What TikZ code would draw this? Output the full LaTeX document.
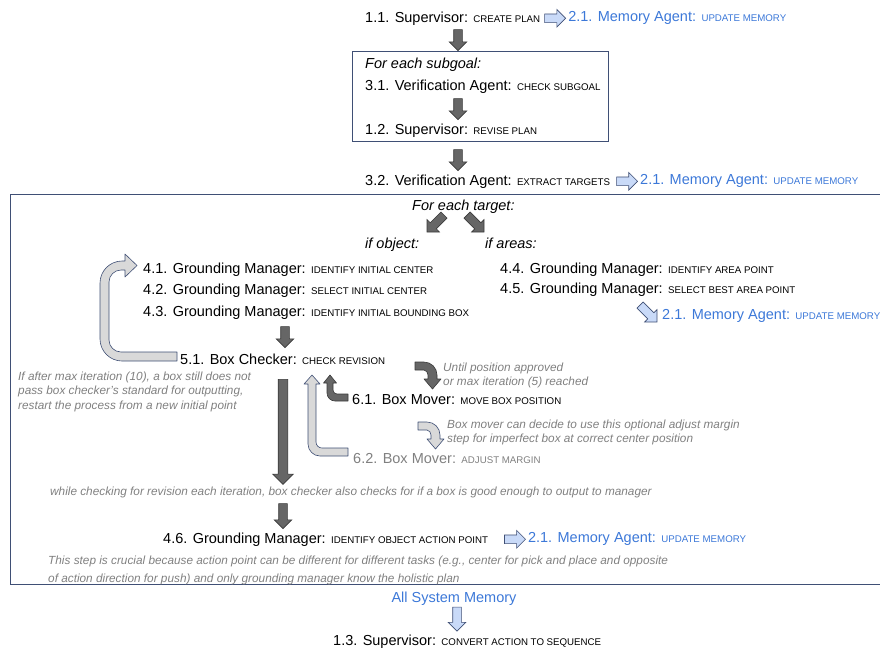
\documentclass[tikz,border=0pt]{standalone}
\usepackage{fontspec}
\setmainfont{Liberation Sans}
\usetikzlibrary{arrows.meta,calc,positioning,shapes.arrows}

\definecolor{memblue}{HTML}{3C78D8}
\definecolor{notegray}{HTML}{808080}
\definecolor{framec}{HTML}{3F4F75}
\definecolor{arrdark}{HTML}{666666}
\definecolor{arrdkline}{HTML}{3A3A3A}
\definecolor{arrblue}{HTML}{C9DAF8}
\definecolor{arrgray}{HTML}{D9D9D9}

\newcommand{\act}[1]{{\fontsize{9.7}{11}\selectfont #1}}

\tikzset{
  stp/.style={anchor=base west, inner sep=0pt, font=\fontsize{14.5}{17}\selectfont},
  stpit/.style={stp, font=\fontsize{14.5}{17}\selectfont\itshape},
  mem/.style={stp, text=memblue},
  note/.style={anchor=north west, inner sep=0pt, align=left, text=notegray, font=\fontsize{11.8}{14.5}\selectfont\itshape},
  blk/.style={single arrow, inner sep=4pt, single arrow head extend=4.5pt, line width=0.6pt, minimum height=21pt},
  dkarr/.style={blk, draw=arrdkline, fill=arrdark},
  bluarr/.style={blk, draw=framec, fill=arrblue},
  dkband/.style={draw=arrdkline, fill=arrdark, line width=0.6pt, line join=round},
  grband/.style={draw=framec, fill=arrgray, line width=0.6pt, line join=round},
  frm/.style={draw=framec, line width=0.8pt},
}

\begin{document}
\begin{tikzpicture}[x=1pt,y=-1pt]
  \useasboundingbox (0,0) rectangle (880,649);

  % planning part
  \node[stp] (s11) at (365,22) {1.1. Supervisor: \act{CREATE PLAN}};
  \node[bluarr, right=4pt of s11] (b11) {};
  \node[mem, right=2pt of b11] (m11) {2.1. Memory Agent: \act{UPDATE MEMORY}};
  \node[dkarr, rotate=-90] (a1) at (458,38) {};

  \draw[frm] (352,51) rectangle (608,141);
  \node[stpit] (sub) at (365,68) {For each subgoal:};
  \node[stp] (s31) at (365,90) {3.1. Verification Agent: \act{CHECK SUBGOAL}};
  \node[dkarr, rotate=-90] (a2) at (458,107) {};
  \node[stp] (s12) at (365,134) {1.2. Supervisor: \act{REVISE PLAN}};
  \node[dkarr, rotate=-90] (a3) at (458,158) {};

  \node[stp] (s32) at (365,185) {3.2. Verification Agent: \act{EXTRACT TARGETS}};
  \node[bluarr, right=6pt of s32] (b32) {};
  \node[mem, right=2pt of b32] (m32) {2.1. Memory Agent: \act{UPDATE MEMORY}};

  % grounding part
  \draw[frm] (880,194) -- (10,194) -- (10,584) -- (880,584);
  \node[stpit] (tgt) at (412,210) {For each target:};
  \node[dkarr, rotate=-135, minimum height=24pt] (dl) at (437,222) {};
  \node[dkarr, rotate=-45, minimum height=24pt] (dr) at (474,222) {};
  \node[stpit] (ifo) at (365,248) {if object:};
  \node[stpit] (ifa) at (485,248) {if areas:};

  \node[stp] (s41) at (143,273) {4.1. Grounding Manager: \act{IDENTIFY INITIAL CENTER}};
  \node[stp] (s42) at (143,294) {4.2. Grounding Manager: \act{SELECT INITIAL CENTER}};
  \node[stp] (s43) at (143,316) {4.3. Grounding Manager: \act{IDENTIFY INITIAL BOUNDING BOX}};
  \node[stp] (s44) at (500,273) {4.4. Grounding Manager: \act{IDENTIFY AREA POINT}};
  \node[stp] (s45) at (500,293) {4.5. Grounding Manager: \act{SELECT BEST AREA POINT}};
  \node[bluarr, rotate=-45, minimum height=24pt] (b45) at (647,312) {};
  \node[mem] (m45) at (662,319) {2.1. Memory Agent: \act{UPDATE MEMORY}};

  \node[dkarr, rotate=-90] (a4) at (285,335) {};
  \node[stp] (s51) at (180,364) {5.1. Box Checker: \act{CHECK REVISION}};
  % restart loop back to 4.1
  \draw[grband] (177,361) -- (122,361) .. controls (109.9,361) and (100,351.1) .. (100,339) -- (100,283)
    .. controls (100,270.9) and (109.9,261) .. (122,261) -- (125,261) -- (125,254) -- (137,265.5) -- (125,277)
    -- (125,270) -- (121,270) .. controls (114.4,270) and (109,275.4) .. (109,282) -- (109,340)
    .. controls (109,346.6) and (114.4,352) .. (121,352) -- (177,352) -- cycle;
  \node[note] (nrst) at (18,371.6) {If after max iteration (10), a box still does not\\pass box checker’s standard for outputting,\\restart the process from a new initial point};

  \node[dkarr, rotate=-90, minimum height=105pt, inner sep=4.5pt, single arrow head extend=5.5pt] (along) at (283,429.5) {};

  \node[stp] (s61) at (352,404) {6.1. Box Mover: \act{MOVE BOX POSITION}};
  \node[stp, text=notegray] (s62) at (353,463) {6.2. Box Mover: \act{ADJUST MARGIN}};
  \draw[dkband] (330,375) -- (336.5,383) -- (333,383) -- (333,390) .. controls (333,392.2) and (334.8,394) .. (337,394)
    -- (348,394) -- (348,401) -- (335,401) .. controls (330.6,401) and (327,397.4) .. (327,393) -- (327,383) -- (323.5,383) -- cycle;
  \draw[grband] (312,375) -- (320,384) -- (316,384) -- (316,442) .. controls (316,445.3) and (318.7,448) .. (322,448)
    -- (348,448) -- (348,456) -- (320,456) .. controls (313.4,456) and (308,450.6) .. (308,444) -- (308,384) -- (304,384) -- cycle;

  \draw[dkband] (415,362) -- (424,362) .. controls (431.2,362) and (437,367.8) .. (437,375) -- (437,379) -- (441,379)
    -- (432.5,389) -- (424,379) -- (428,379) -- (428,375) .. controls (428,372.8) and (426.2,370) .. (424,370) -- (415,370) -- cycle;
  \node[note] (nuntil) at (443,362.5) {Until position approved\\or max iteration (5) reached};
  \draw[grband] (418,422) -- (427,422) .. controls (434.2,422) and (440,427.8) .. (440,435) -- (440,439) -- (444,439)
    -- (435.5,449) -- (427,439) -- (431,439) -- (431,435) .. controls (431,432.8) and (429.2,430) .. (427,430) -- (418,430) -- cycle;
  \node[note] (nadj) at (447,419.5) {Box mover can decide to use this optional adjust margin\\step for imperfect box at correct center position};

  \node[note] (nchk) at (50,486.5) {while checking for revision each iteration, box checker also checks for if a box is good enough to output to manager};
  \node[dkarr, rotate=-90, minimum height=25pt] (a5) at (283,514) {};
  \node[stp] (s46) at (163,543) {4.6. Grounding Manager: \act{IDENTIFY OBJECT ACTION POINT}};
  \node[bluarr, right=16pt of s46] (b46) {};
  \node[mem, right=2pt of b46] (m46) {2.1. Memory Agent: \act{UPDATE MEMORY}};
  \node[note, font=\fontsize{11.8}{18}\selectfont\itshape] (ncru) at (48,555.5) {This step is crucial because action point can be different for different tasks (e.g., center for pick and place and opposite\\of action direction for push) and only grounding manager know the holistic plan};

  % final step
  \node[mem, anchor=base] (asm) at (454,602) {All System Memory};
  \node[bluarr, rotate=-90, minimum height=24pt] (b13) at (457,617) {};
  \node[stp] (s13) at (333,645) {1.3. Supervisor: \act{CONVERT ACTION TO SEQUENCE}};
\end{tikzpicture}
\end{document}
